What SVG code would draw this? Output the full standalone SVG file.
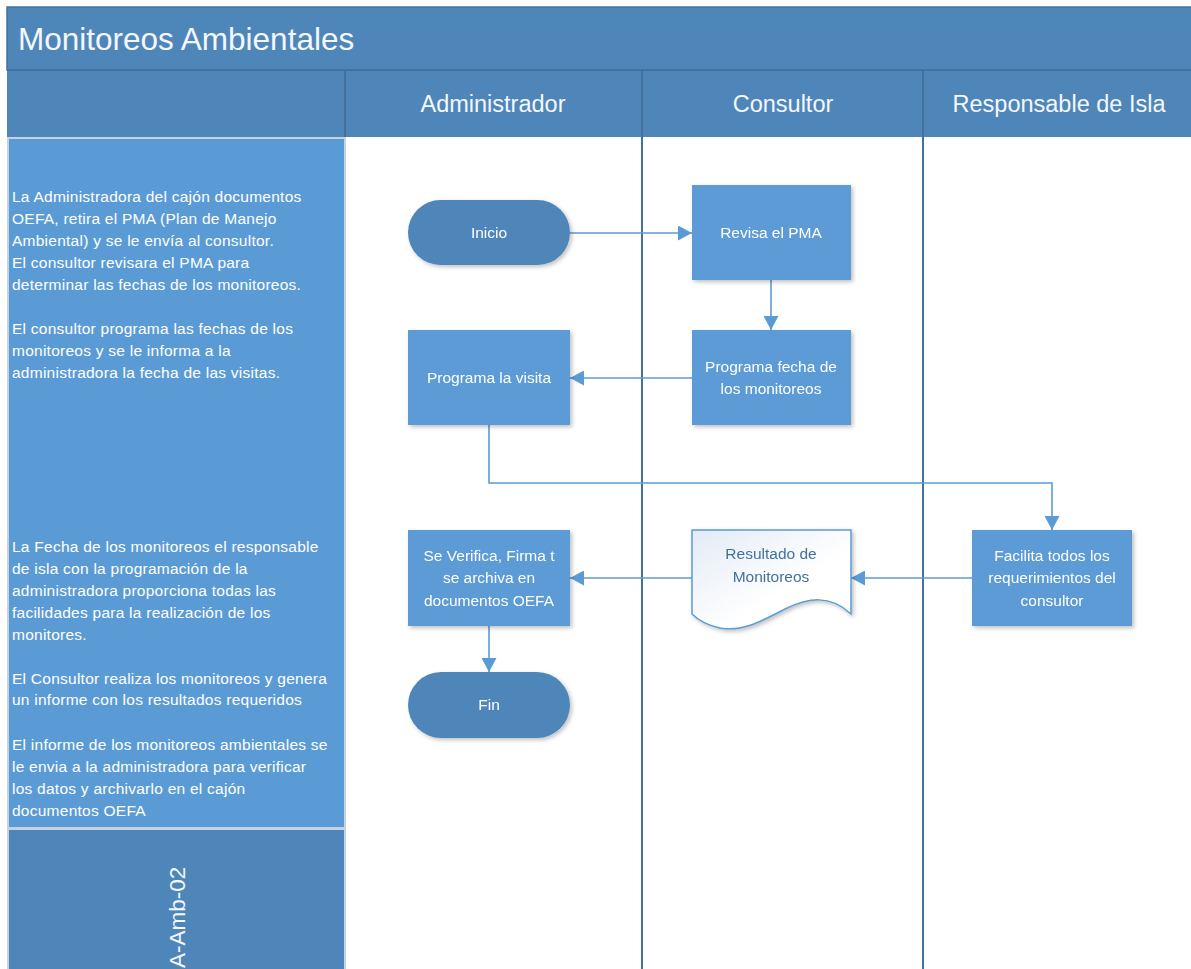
<svg xmlns="http://www.w3.org/2000/svg" width="1191" height="969" viewBox="0 0 1191 969">
  <style>
    .band { fill: #4f86ba; }
    .sep { stroke: #41719c; stroke-width: 2; }
    .title { font-family: "Liberation Sans", Arial, sans-serif; font-size: 31.5px; fill: #f4f7fb; }
    .lane { font-family: "Liberation Sans", Arial, sans-serif; font-size: 23.5px; fill: #f4f7fb; text-anchor: middle; }
    .desc { font-family: "Liberation Sans", Arial, sans-serif; font-size: 15.5px; letter-spacing: 0.25px; fill: #ffffff; }
    .box { fill: #5b9bd5; }
    .pill { fill: #4f86ba; }
    .lbl { font-family: "Liberation Sans", Arial, sans-serif; font-size: 15.5px; fill: #ffffff; text-anchor: middle; }
    .doclbl { font-family: "Liberation Sans", Arial, sans-serif; font-size: 15.5px; fill: #41719c; text-anchor: middle; }
    .conn { fill: none; stroke: #5b9bd5; stroke-width: 1.6; }
  </style>
  <defs>
    <marker id="arrow" markerUnits="userSpaceOnUse" markerWidth="15" markerHeight="15" viewBox="0 0 15 15" refX="14" refY="7.5" orient="auto">
      <path d="M0,0 L14,7.5 L0,15 Z" fill="#5b9bd5"/>
    </marker>
    <filter id="shadow" x="-10%" y="-10%" width="125%" height="130%">
      <feDropShadow dx="2" dy="2" stdDeviation="2" flood-color="#000" flood-opacity="0.25"/>
    </filter>
    <linearGradient id="docfill" x1="0" y1="0" x2="1" y2="1">
      <stop offset="0" stop-color="#e3ebf6"/>
      <stop offset="0.6" stop-color="#ffffff"/>
    </linearGradient>
  </defs>

  <!-- page background -->
  <rect x="0" y="0" width="1191" height="969" fill="#ffffff"/>

  <!-- title band -->
  <g id="title">
    <rect class="band" x="7" y="7" width="1190" height="63" stroke="#41719c" stroke-width="1.5"/>
    <text class="title" x="18" y="50">Monitoreos Ambientales</text>
  </g>

  <!-- lane header row -->
  <g id="lane-headers">
    <rect class="band" x="7" y="70" width="1190" height="67"/>
    <line class="sep" x1="7" y1="70" x2="1191" y2="70"/>
    <line class="sep" x1="345" y1="70" x2="345" y2="137"/>
    <line class="sep" x1="642" y1="70" x2="642" y2="137"/>
    <line class="sep" x1="923" y1="70" x2="923" y2="137"/>
    <text class="lane" x="493" y="112">Administrador</text>
    <text class="lane" x="783" y="112">Consultor</text>
    <text class="lane" x="1059" y="112">Responsable de Isla</text>
  </g>

  <!-- lane dividers through the body -->
  <g id="lane-lines">
    <line class="sep" x1="345" y1="137" x2="345" y2="969"/>
    <line class="sep" x1="642" y1="137" x2="642" y2="969"/>
    <line class="sep" x1="923" y1="137" x2="923" y2="969"/>
  </g>

  <!-- description column -->
  <g id="description">
    <rect x="8" y="138" width="337" height="690" fill="#5b9bd5" stroke="#c5d2df" stroke-width="2"/>
    <text class="desc" x="12" y="202">La Administradora del cajón documentos</text>
    <text class="desc" x="12" y="224">OEFA, retira el PMA (Plan de Manejo</text>
    <text class="desc" x="12" y="246">Ambiental) y se le envía al consultor.</text>
    <text class="desc" x="12" y="268">El consultor revisara el PMA para</text>
    <text class="desc" x="12" y="290">determinar las fechas de los monitoreos.</text>
    <text class="desc" x="12" y="334">El consultor programa las fechas de los</text>
    <text class="desc" x="12" y="356">monitoreos y se le informa a la</text>
    <text class="desc" x="12" y="378">administradora la fecha de las visitas.</text>

    <text class="desc" x="12" y="552">La Fecha de los monitoreos el responsable</text>
    <text class="desc" x="12" y="574">de isla con la programación de la</text>
    <text class="desc" x="12" y="596">administradora proporciona todas las</text>
    <text class="desc" x="12" y="618">facilidades para la realización de los</text>
    <text class="desc" x="12" y="640">monitores.</text>
    <text class="desc" x="12" y="684">El Consultor realiza los monitoreos y genera</text>
    <text class="desc" x="12" y="705">un informe con los resultados requeridos</text>
    <text class="desc" x="12" y="750">El informe de los monitoreos ambientales se</text>
    <text class="desc" x="12" y="772">le envia a la administradora para verificar</text>
    <text class="desc" x="12" y="794">los datos y archivarlo en el cajón</text>
    <text class="desc" x="12" y="816">documentos  OEFA</text>
  </g>

  <!-- document code cell -->
  <g id="code">
    <rect class="band" x="8" y="829" width="337" height="145" stroke="#c5d2df" stroke-width="2"/>
    <text class="lane" style="text-anchor:start; font-size:22.5px" transform="translate(185,968) rotate(-90)">A-Amb-02</text>
  </g>

  <!-- connectors -->
  <g id="connectors">
    <path class="conn" d="M570,233 H692" marker-end="url(#arrow)"/>
    <path class="conn" d="M771,280 V330" marker-end="url(#arrow)"/>
    <path class="conn" d="M692,378 H570" marker-end="url(#arrow)"/>
    <path class="conn" d="M489,425 V483 H1052 V530" marker-end="url(#arrow)"/>
    <path class="conn" d="M972,578 H851" marker-end="url(#arrow)"/>
    <path class="conn" d="M692,578 H570" marker-end="url(#arrow)"/>
    <path class="conn" d="M489,626 V672" marker-end="url(#arrow)"/>
  </g>

  <!-- nodes -->
  <g id="inicio" filter="url(#shadow)">
    <rect class="pill" x="408" y="200" width="162" height="65" rx="32.5"/>
    <text class="lbl" x="489" y="238">Inicio</text>
  </g>

  <g id="revisa-pma" filter="url(#shadow)">
    <rect class="box" x="692" y="185" width="159" height="95"/>
    <text class="lbl" x="771" y="238">Revisa el PMA</text>
  </g>

  <g id="programa-fecha" filter="url(#shadow)">
    <rect class="box" x="692" y="330" width="159" height="95"/>
    <text class="lbl" x="771" y="372">Programa fecha de</text>
    <text class="lbl" x="771" y="394">los monitoreos</text>
  </g>

  <g id="programa-visita" filter="url(#shadow)">
    <rect class="box" x="408" y="330" width="162" height="95"/>
    <text class="lbl" x="489" y="383">Programa la visita</text>
  </g>

  <g id="facilita" filter="url(#shadow)">
    <rect class="box" x="972" y="530" width="160" height="96"/>
    <text class="lbl" x="1052" y="561">Facilita todos los</text>
    <text class="lbl" x="1052" y="583">requerimientos del</text>
    <text class="lbl" x="1052" y="606">consultor</text>
  </g>

  <g id="resultado" filter="url(#shadow)">
    <path d="M692,530 H851 V614 C830,594 808,598 785,609 C760,622 742,632 720,628 C706,625 697,619 692,614 Z" fill="url(#docfill)" stroke="#5b9bd5" stroke-width="1.5"/>
    <text class="doclbl" x="771" y="559">Resultado de</text>
    <text class="doclbl" x="771" y="582">Monitoreos</text>
  </g>

  <g id="verifica" filter="url(#shadow)">
    <rect class="box" x="408" y="530" width="162" height="96"/>
    <text class="lbl" x="489" y="561">Se Verifica, Firma t</text>
    <text class="lbl" x="489" y="583">se archiva en</text>
    <text class="lbl" x="489" y="606">documentos OEFA</text>
  </g>

  <g id="fin" filter="url(#shadow)">
    <rect class="pill" x="408" y="672" width="162" height="66" rx="33"/>
    <text class="lbl" x="489" y="710">Fin</text>
  </g>
</svg>
